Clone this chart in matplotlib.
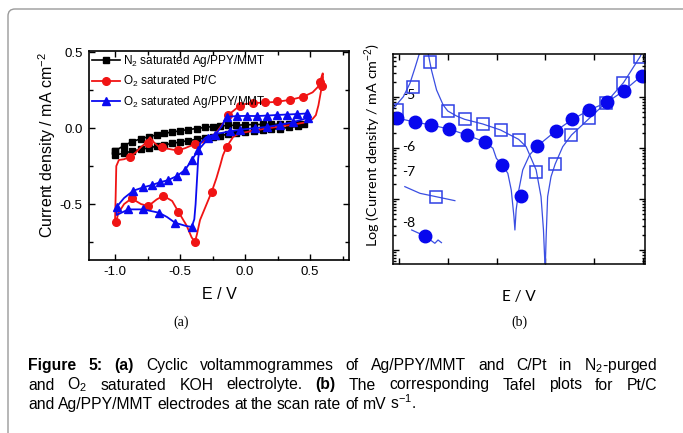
import numpy as np
import matplotlib
matplotlib.use("Agg")
import matplotlib.pyplot as plt
from matplotlib.lines import Line2D
from matplotlib.patches import FancyBboxPatch
from matplotlib.transforms import IdentityTransform
from matplotlib.ticker import MultipleLocator, FixedLocator, NullFormatter
from matplotlib import font_manager

# ---------------- (a) cyclic voltammograms ----------------
# N2 saturated Ag/PPY/MMT: closed loop, markers on every point
n2_E = [-1.0, -0.93, -0.87, -0.8, -0.74, -0.68, -0.62, -0.56, -0.5, -0.44, -0.37, -0.31,
        -0.25, -0.19, -0.13, -0.07, 0.0, 0.07, 0.14, 0.2, 0.27, 0.34, 0.41, 0.45,
        0.41, 0.34, 0.27, 0.2, 0.14, 0.07, 0.0, -0.07, -0.13, -0.19, -0.25, -0.31,
        -0.37, -0.44, -0.5, -0.56, -0.62, -0.68, -0.74, -0.8, -0.87, -0.93, -1.0, -1.0]
n2_j = [-0.15, -0.115, -0.09, -0.07, -0.057, -0.045, -0.035, -0.026, -0.018, -0.01, -0.003, 0.004,
        0.01, 0.014, 0.017, 0.019, 0.021, 0.023, 0.024, 0.025, 0.026, 0.027, 0.03, 0.03,
        0.012, 0.004, -0.003, -0.008, -0.013, -0.019, -0.026, -0.033, -0.041, -0.049, -0.057, -0.065,
        -0.074, -0.083, -0.092, -0.101, -0.11, -0.12, -0.13, -0.14, -0.152, -0.165, -0.178, -0.15]

# O2 saturated Pt/C: curve and marker points
ptc_E = [-1.0, -0.995, -0.99, -0.97, -0.93, -0.885, -0.84, -0.8, -0.765, -0.73, -0.7, -0.66,
         -0.6, -0.55, -0.51, -0.46, -0.4, -0.33, -0.28, -0.22, -0.17, -0.13, -0.08, -0.04,
         0.0, 0.06, 0.15, 0.24, 0.35, 0.45, 0.52, 0.56, 0.577, 0.59, 0.598, 0.6, 0.59,
         0.565, 0.545, 0.52, 0.45, 0.35, 0.25, 0.15, 0.05, -0.04, -0.09, -0.141, -0.17,
         -0.19, -0.22, -0.256, -0.3, -0.346, -0.37, -0.385, -0.41, -0.45, -0.513, -0.56,
         -0.628, -0.68, -0.744, -0.8, -0.872, -0.93, -0.975, -0.992]
ptc_j = [-0.62, -0.45, -0.25, -0.21, -0.205, -0.19, -0.16, -0.125, -0.1, -0.06, -0.095, -0.125,
         -0.135, -0.143, -0.145, -0.132, -0.11, -0.095, -0.07, -0.03, 0.03, 0.085, 0.12, 0.148,
         0.158, 0.164, 0.168, 0.172, 0.186, 0.207, 0.235, 0.27, 0.305, 0.34, 0.36, 0.33, 0.27,
         0.15, 0.085, 0.06, 0.035, 0.02, 0.008, -0.005, -0.02, -0.035, -0.057, -0.123, -0.18,
         -0.243, -0.33, -0.419, -0.51, -0.605, -0.7, -0.748, -0.72, -0.64, -0.55, -0.48,
         -0.445, -0.47, -0.513, -0.5, -0.463, -0.5, -0.56, -0.62]
ptc_mE = [-0.885, -0.744, -0.641, -0.513, -0.385, -0.128, -0.038, 0.064, 0.154, 0.244, 0.346,
          0.449, 0.577, 0.59, -0.141, -0.256, -0.385, -0.513, -0.628, -0.744, -0.872, -0.992]
ptc_mj = [-0.189, -0.097, -0.127, -0.145, -0.107, 0.085, 0.148, 0.164, 0.17, 0.175, 0.186,
          0.207, 0.305, 0.28, -0.123, -0.419, -0.748, -0.55, -0.445, -0.513, -0.463, -0.62]

# O2 saturated Ag/PPY/MMT
ag_E = [-0.987, -0.93, -0.859, -0.782, -0.718, -0.654, -0.59, -0.525, -0.462, -0.41, -0.359,
        -0.282, -0.231, -0.18, -0.141, -0.064, 0.013, 0.09, 0.167, 0.244, 0.321, 0.398, 0.475,
        0.5, 0.487, 0.372, 0.27, 0.167, 0.077, -0.04, -0.115, -0.2, -0.3, -0.345, -0.36,
        -0.37, -0.38, -0.39, -0.41, -0.45, -0.538, -0.6, -0.662, -0.782, -0.897, -0.987, -0.987]
ag_j = [-0.518, -0.46, -0.412, -0.39, -0.375, -0.357, -0.342, -0.316, -0.276, -0.211, -0.145,
        -0.068, -0.046, 0.01, 0.074, 0.079, 0.08, 0.079, 0.082, 0.086, 0.089, 0.092, 0.096,
        0.085, 0.068, 0.039, 0.022, 0.007, 0.0, -0.011, -0.022, -0.035, -0.06, -0.1, -0.2,
        -0.35, -0.5, -0.6, -0.65, -0.645, -0.623, -0.585, -0.557, -0.535, -0.535, -0.572, -0.518]
ag_mE = [-0.987, -0.859, -0.782, -0.718, -0.654, -0.59, -0.525, -0.462, -0.41, -0.359, -0.282,
         -0.231, -0.141, -0.064, 0.013, 0.09, 0.167, 0.244, 0.321, 0.398, 0.475,
         0.487, 0.372, 0.27, 0.167, 0.077, -0.04, -0.115,
         -0.41, -0.538, -0.662, -0.782, -0.897]
ag_mj = [-0.518, -0.412, -0.39, -0.375, -0.357, -0.342, -0.316, -0.276, -0.211, -0.145, -0.068,
         -0.046, 0.074, 0.079, 0.08, 0.079, 0.082, 0.086, 0.089, 0.092, 0.096,
         0.068, 0.039, 0.022, 0.007, 0.0, -0.011, -0.022,
         -0.65, -0.623, -0.557, -0.535, -0.535]

legend_labels = ["N$_2$ saturated Ag/PPY/MMT", "O$_2$ saturated Pt/C",
                 "O$_2$ saturated Ag/PPY/MMT"]

# ---------------- (b) Tafel plots (log current density) ----------------
sq_line_E = [-0.823, -0.782, -0.755, -0.735, -0.717, -0.70, -0.68, -0.667, -0.646, -0.619, -0.6,
             -0.564, -0.531, -0.457, -0.384, -0.31, -0.279, -0.238, -0.218, -0.208, -0.201,
             -0.197, -0.191, -0.177, -0.16, -0.129, -0.093, -0.02, 0.048, 0.12, 0.188, 0.204]
sq_line_j = [-5.222, -4.994, -4.731, -4.437, -4.157, -3.95, -4.157, -4.47, -4.863, -5.157, -5.275,
             -5.373, -5.438, -5.529, -5.647, -5.83, -5.974, -6.431, -6.954, -7.608, -8.4,
             -7.739, -6.954, -6.562, -6.314, -5.974, -5.745, -5.418, -5.111, -4.719, -4.209, -4.04]
sq_E = [-0.808, -0.743, -0.673, -0.6, -0.531, -0.457, -0.384, -0.31, -0.237, -0.159, -0.094,
        -0.02, 0.049, 0.118, 0.188]
sq_j = [-5.255, -4.804, -4.314, -5.275, -5.431, -5.529, -5.647, -5.843, -6.471, -6.314, -5.745,
        -5.412, -5.118, -4.725, -4.216]

ci_line_E = [-0.823, -0.735, -0.669, -0.596, -0.522, -0.449, -0.415, -0.401, -0.377, -0.354,
             -0.34, -0.329, -0.325, -0.32, -0.309, -0.293, -0.265, -0.231, -0.156, -0.089,
             -0.02, 0.052, 0.122, 0.195, 0.211]
ci_line_j = [-5.399, -5.49, -5.549, -5.627, -5.745, -5.882, -6.006, -6.203, -6.333, -6.497,
             -6.824, -7.346, -7.608, -7.216, -6.824, -6.431, -6.137, -5.954, -5.66, -5.438,
             -5.255, -5.105, -4.876, -4.582, -4.47]
ci_E = [-0.808, -0.735, -0.669, -0.596, -0.522, -0.449, -0.376, -0.302, -0.233, -0.155, -0.09,
        -0.02, 0.053, 0.122, 0.196]
ci_j = [-5.412, -5.49, -5.549, -5.627, -5.745, -5.882, -6.333, -6.941, -5.961, -5.667, -5.431,
        -5.255, -5.098, -4.882, -4.588]

# stray pieces pasted into the panel
frag_sq_E = [-0.776, -0.714, -0.649, -0.571]
frag_sq_j = [-6.758, -6.889, -6.954, -7.033]
frag_ci_E = [-0.748, -0.694, -0.653, -0.64, -0.626]
frag_ci_j = [-7.608, -7.725, -7.869, -7.804, -7.856]

tafel_tick_labels = ["-5", "-6", "-7", "-8"]

# ---------------- style ----------------
names = {f.name for f in font_manager.fontManager.ttflist}
tafel_font = "Lato" if "Lato" in names else "DejaVu Sans"
cap_font = "Liberation Sans"
cap_size = 11.3

plt.rcParams["font.family"] = ["Liberation Sans", "DejaVu Sans"]
plt.rcParams["mathtext.fontset"] = "custom"
plt.rcParams["mathtext.rm"] = "Liberation Sans"
plt.rcParams["mathtext.it"] = "Liberation Sans:italic"
plt.rcParams["mathtext.bf"] = "Liberation Sans:bold"
plt.rcParams["axes.unicode_minus"] = False

W, H = 683, 433
fig = plt.figure(figsize=(W / 100, H / 100), dpi=100)

# rounded grey frame around the figure (top-left corner only visible)
frame = FancyBboxPatch((8, -30), 720, H - 9 + 30, boxstyle="round,pad=0,rounding_size=7",
                       transform=IdentityTransform(), fill=False, edgecolor="#9a9a9a",
                       linewidth=1.0)
fig.patches.append(frame)

RED = "#f01414"
BLUE = "#0a0af0"

# ---- panel (a)
ax1 = fig.add_axes([89 / W, 1 - 260 / H, 260 / W, 209 / H])
ax1.plot(n2_E, n2_j, color="black", lw=1.2, marker="s", ms=4.8, zorder=2)
ax1.plot(ptc_E, ptc_j, color=RED, lw=1.3, zorder=3)
ax1.plot(ptc_mE, ptc_mj, ls="none", marker="o", ms=5.5, color=RED, zorder=3)
ax1.plot(ag_E, ag_j, color=BLUE, lw=1.3, zorder=4)
ax1.plot(ag_mE, ag_mj, ls="none", marker="^", ms=6, color=BLUE, zorder=4)

ax1.set_xlim(-1.2, 0.8)
ax1.set_ylim(-0.868, 0.507)
ax1.xaxis.set_major_locator(MultipleLocator(0.5))
ax1.xaxis.set_minor_locator(MultipleLocator(0.25))
ax1.yaxis.set_major_locator(MultipleLocator(0.5))
ax1.yaxis.set_minor_locator(MultipleLocator(0.25))
ax1.tick_params(which="both", direction="in", top=True, right=True, width=1.0)
ax1.tick_params(which="major", length=4, labelsize=9.5, pad=4.5)
ax1.tick_params(which="minor", length=3)
for s in ax1.spines.values():
    s.set_linewidth(1.2)
ax1.set_ylabel("Current density / mA cm$^{-2}$", fontsize=11.5)
ax1.yaxis.set_label_coords(-0.118, 0.55)
ax1.set_xlabel("E / V", fontsize=11.5)
ax1.xaxis.set_label_coords(0.5, -0.13)

handles = [Line2D([], [], color="black", lw=1.2, marker="s", ms=4.8),
           Line2D([], [], color=RED, lw=1.3, marker="o", ms=5.5),
           Line2D([], [], color=BLUE, lw=1.3, marker="^", ms=6)]
ax1.legend(handles, legend_labels, loc="upper left", bbox_to_anchor=(0.012, 0.99),
           frameon=False, fontsize=8.5, handlelength=2.4, handletextpad=0.2,
           labelspacing=0.42, borderpad=0, borderaxespad=0, numpoints=1)

# ---- panel (b)
LBLUE = "#3a4ee2"
ax2 = fig.add_axes([393 / W, 1 - 264 / H, 252 / W, 210 / H])
ax2.plot(sq_line_E, sq_line_j, color=LBLUE, lw=0.9)
ax2.plot(sq_E, sq_j, ls="none", marker="s", ms=8.2, mfc="none", mec="#2f40e4", mew=1.1)
ax2.plot(ci_line_E, ci_line_j, color=LBLUE, lw=0.9)
ax2.plot(ci_E, ci_j, ls="none", marker="o", ms=9, color="#0808ee")
ax2.plot(frag_sq_E, frag_sq_j, color=LBLUE, lw=0.9)
ax2.plot(frag_sq_E[2], frag_sq_j[2], ls="none", marker="s", ms=8.2, mfc="none",
         mec="#2f40e4", mew=1.1)
ax2.plot(frag_ci_E, frag_ci_j, color=LBLUE, lw=0.9)
ax2.plot(frag_ci_E[1], frag_ci_j[1], ls="none", marker="o", ms=9, color="#0808ee")

ax2.set_xlim(-0.8245, 0.208)
ax2.set_ylim(-8.275, -4.157)
ax2.xaxis.set_major_locator(MultipleLocator(0.2))
ax2.yaxis.set_major_locator(FixedLocator([-8, -7, -6, -5]))
ax2.yaxis.set_minor_locator(FixedLocator([d + np.log10(k) for d in range(-9, -4)
                                          for k in range(2, 10)]))
ax2.xaxis.set_major_formatter(NullFormatter())
ax2.yaxis.set_major_formatter(NullFormatter())
ax2.tick_params(which="both", direction="in", top=True, right=True, width=1.0)
ax2.tick_params(which="major", length=4)
ax2.tick_params(which="minor", length=2)
for s in ax2.spines.values():
    s.set_linewidth(1.1)

for lab, yf in zip(tafel_tick_labels, [0.805, 0.557, 0.438, 0.195]):
    ax2.text(0.063, yf, lab, transform=ax2.transAxes, ha="center", va="center",
             fontsize=10, family=tafel_font, zorder=1)
ax2.text(-0.08, 0.567, "Log (Current density / mA cm$^{-2}$)", transform=ax2.transAxes,
         rotation=90, ha="center", va="center", fontsize=10.4, family=tafel_font)
ax2.text(0.5, -0.157, "E / V", transform=ax2.transAxes, ha="center", va="center",
         fontsize=11, family=tafel_font)

# ---- sub-figure letters
fig.text(181 / W, 1 - 322 / H, "(a)", ha="center", va="center", fontsize=10,
         family="Liberation Serif")
fig.text(519 / W, 1 - 322 / H, "(b)", ha="center", va="center", fontsize=10,
         family="Liberation Serif")

# ---- caption, set word by word so the first two lines are justified
renderer = fig.canvas.get_renderer()
caption = [
    ([("Figure", "bold"), ("5:", "bold"), ("(a)", "bold"), ("Cyclic", "normal"),
      ("voltammogrammes", "normal"), ("of", "normal"), ("Ag/PPY/MMT", "normal"),
      ("and", "normal"), ("C/Pt", "normal"), ("in", "normal"), ("N$_2$-purged", "normal")], 370, True),
    ([("and", "normal"), ("O$_2$", "normal"), ("saturated", "normal"), ("KOH", "normal"),
      ("electrolyte.", "normal"), ("(b)", "bold"), ("The", "normal"), ("corresponding", "normal"),
      ("Tafel", "normal"), ("plots", "normal"), ("for", "normal"), ("Pt/C", "normal")], 389.5, True),
    ([("and", "normal"), ("Ag/PPY/MMT", "normal"), ("electrodes", "normal"), ("at", "normal"),
      ("the", "normal"), ("scan", "normal"), ("rate", "normal"), ("of", "normal"), ("mV", "normal"),
      ("s$^{-1}$.", "normal")], 409, False),
]
x_left, x_right = 28, 657
space = 0.25 * cap_size * 100 / 72
for words, base, justify in caption:
    texts = []
    widths = []
    for w, wt in words:
        t = fig.text(0, 1 - base / H, w, fontsize=cap_size, fontweight=wt, family=cap_font,
                     va="baseline", ha="left")
        texts.append(t)
        widths.append(t.get_window_extent(renderer=renderer).width)
    gap = (x_right - x_left - sum(widths)) / (len(words) - 1) if justify else space
    x = x_left
    for t, wd in zip(texts, widths):
        t.set_x(x / W)
        x += wd + gap

fig.savefig("out.png", dpi=100)
